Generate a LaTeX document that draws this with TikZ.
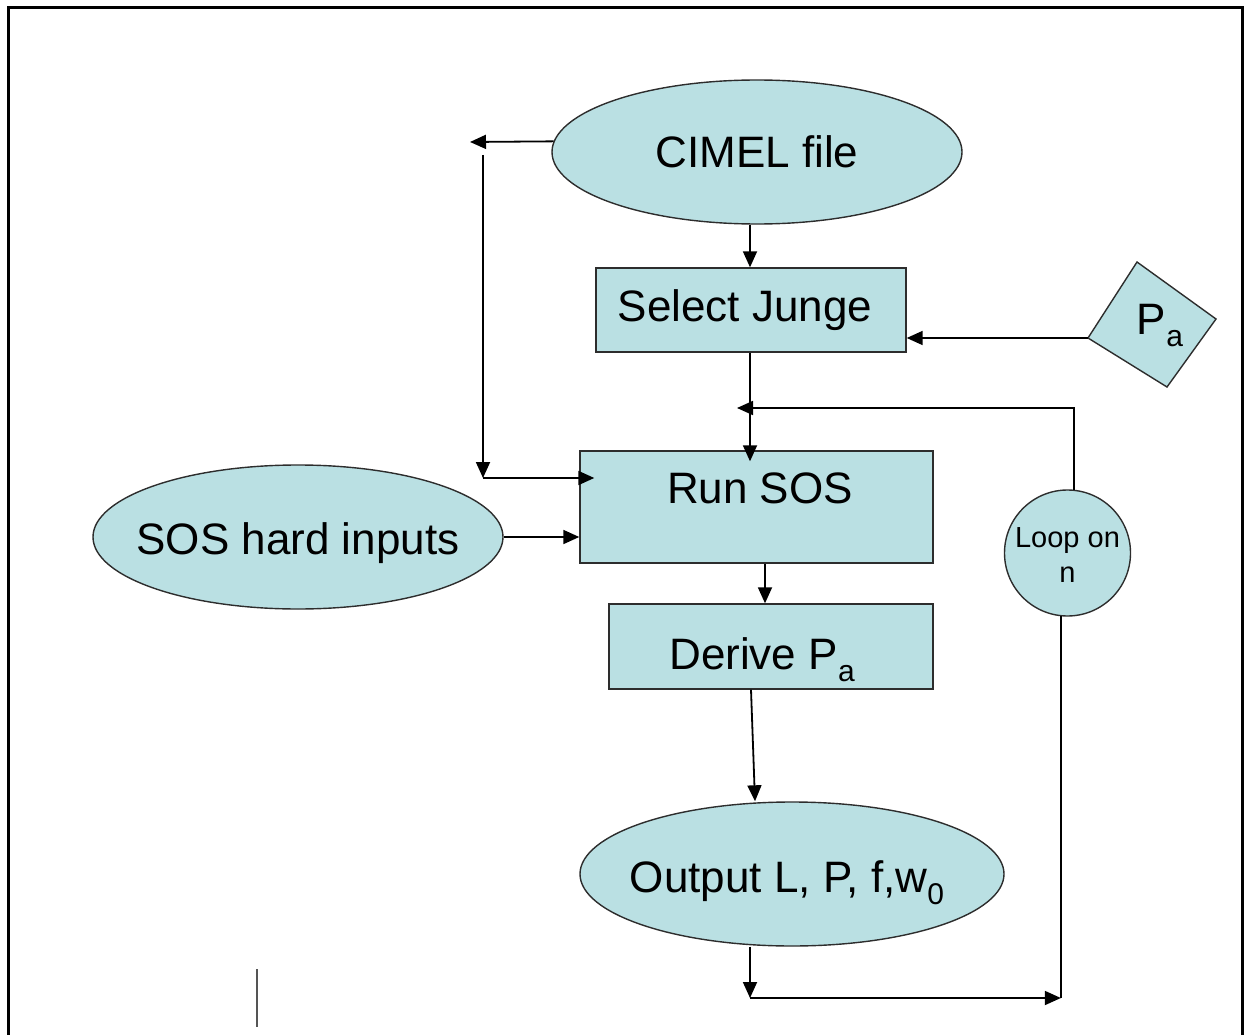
\documentclass[tikz,border=0pt]{standalone}
\usepackage{fontspec}
\setmainfont{Liberation Sans}
\usetikzlibrary{shapes.geometric,arrows.meta}
\definecolor{boxfill}{RGB}{186,224,227}
\definecolor{edgegray}{RGB}{45,45,45}
\definecolor{straygray}{RGB}{85,85,85}
% lowered, smaller subscript in text font
\newcommand{\lowsub}[1]{\raisebox{-12pt}{\fontsize{30}{30}\selectfont #1}}

\begin{document}
\begin{tikzpicture}[x=1pt,y=-1pt,
  shapebox/.style={draw=edgegray,line width=1.4pt,fill=boxfill,inner sep=0pt},
  rectbox/.style={shapebox,rectangle},
  ovalbox/.style={shapebox,ellipse},
  bigtext/.style={font=\fontsize{44}{50}\selectfont},
  smalltext/.style={font=\fontsize{29}{35}\selectfont,align=center},
  arr/.style={line width=1.8pt,-{Triangle[length=16pt,width=14pt]}},
  wire/.style={line width=1.8pt}]
\useasboundingbox (0,0) rectangle (1245,1035);

% page frame, open at the bottom
\draw[line width=3pt] (8,1035) -- (8,8) -- (1242,8) -- (1242,1035);

% shapes
\node[ovalbox,minimum width=410,minimum height=144] (cimel) at (757,152) {};
\node[bigtext] (cimeltext) at (757,152) {CIMEL file};
\node[rectbox,minimum width=310,minimum height=84] (junge) at (751,310) {};
\node[bigtext] (jungetext) at (745,310) {Select Junge};

% tilted square holding P_a
\coordinate (patop) at (1137,262);
\coordinate (paright) at (1216,319);
\coordinate (pabot) at (1167,387);
\coordinate (paleft) at (1088,338);
\draw[shapebox] (patop) -- (paright) -- (pabot) -- (paleft) -- cycle;
\node[bigtext] (patext) at (1160,326) {P\lowsub{a}};

\node[rectbox,minimum width=353,minimum height=112] (run) at (756.5,507) {};
\node[bigtext] (runtext) at (760,488) {Run SOS};
\node[ovalbox,minimum width=410,minimum height=144] (sos) at (298,537) {};
\node[bigtext] (sostext) at (298,543) {SOS hard inputs};
\node[rectbox,minimum width=324,minimum height=85] (derive) at (771,646.5) {};
\node[bigtext] (derivetext) at (762,660) {Derive P\lowsub{a}};
\node[ovalbox,minimum width=424,minimum height=144] (out) at (792,874) {};
\node[bigtext] (outtext) at (787,883) {Output L, P, f,w\lowsub{0}};
\node[shapebox,circle,minimum size=126] (loop) at (1067.5,553) {};
\node[smalltext] (looptext) at (1067.5,555) {Loop on\\n};

% connector turning points
\coordinate (xmain) at (750,0);
\coordinate (cimelend) at (470,142);
\coordinate (sidetop) at (483,155);
\coordinate (sidebot) at (483,478);
\coordinate (looptip) at (737,408);
\coordinate (botleft) at (750,998);
\coordinate (botright) at (loop.264 |- botleft);

% connectors
\draw[arr] (cimel.south -| xmain) -- (junge.north -| xmain);
\draw[arr] (cimel.177) -- (cimelend);
\draw[arr] (sidetop) -- (sidebot);
\draw[arr,shorten >=-15pt] (sidebot) -- (sidebot -| run.west);
\draw[arr] (paleft) -- (paleft -| junge.east);
\draw[arr,shorten >=-11pt] (junge.south -| xmain) -- (run.north -| xmain);
\draw[arr] (loop.84) |- (looptip);
\draw[arr] (sos.east) -- (sos.east -| run.west);
\draw[arr] (run.south -| 765,0) -- (derive.north -| 765,0);
\draw[arr] (derive.south -| 751,0) -- (out.north -| 755,0);
\draw[arr] (out.south -| botleft) -- (botleft);
\draw[arr] (botleft) -- (botright);
\draw[wire] (loop.264) -- (botright);

% short stray stroke near the bottom left
\draw[line width=2pt,straygray] (257,969) -- (257,1027);
\end{tikzpicture}
\end{document}
